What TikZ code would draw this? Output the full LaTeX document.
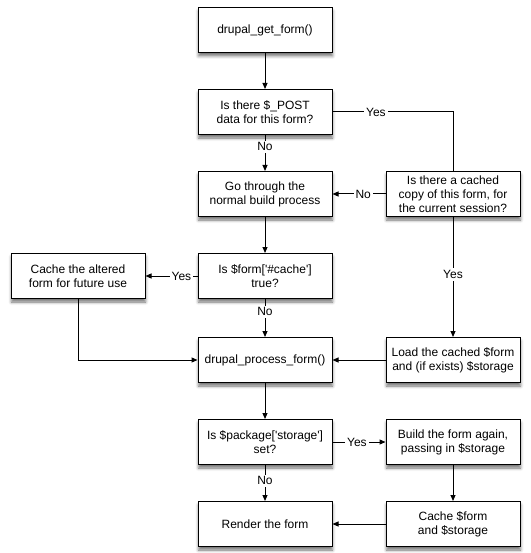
\documentclass[tikz,border=0pt]{standalone}
\usepackage{fontspec}
\setmainfont{Liberation Sans}
\usetikzlibrary{arrows.meta,positioning,shadows.blur}

\begin{document}
\begin{tikzpicture}[
    x=1pt, y=1pt,
    node distance=36pt and 53pt,
    font=\fontsize{12}{14}\selectfont,
    box/.style={rectangle, draw=black, line width=1pt, minimum width=134pt, minimum height=45pt, align=center, fill=white,
        blur shadow={shadow xshift=0.5pt, shadow yshift=-3.5pt, shadow blur radius=3pt, shadow opacity=55}},
    arr/.style={-{Triangle[length=6pt,width=5pt]}, line width=1pt},
    lbl/.style={fill=white, inner sep=2pt}
]
\useasboundingbox (0,0) rectangle (530,-553);

\node[box] (getform) at (265,-30) {drupal\_get\_form()};
\node[box, below=of getform] (postdata) {Is there \$\_POST\\data for this form?};
\node[box, below=of postdata] (build) {Go through the\\normal build process};
\node[box, right=of build] (cached) {Is there a cached\\copy of this form, for\\the current session?};
\node[box, below=of build] (cachetest) {Is \$form[\textquotesingle\#cache\textquotesingle]\\true?};
\node[box, left=52pt of cachetest] (altered) {Cache the altered\\form for future use};
\node[box, below=38pt of cachetest] (process) {drupal\_process\_form()};
\node[box, right=of process] (load) {Load the cached \$form\\and (if exists) \$storage};
\node[box, below=of process] (storage) {Is \$package[\textquotesingle storage\textquotesingle]\\set?};
\node[box, right=of storage] (rebuild) {Build the form again,\\passing in \$storage};
\node[box, below=of storage] (render) {Render the form};
\node[box, right=of render] (cachesave) {Cache \$form\\and \$storage};

\draw[arr] (getform) -- (postdata);
\draw[arr] (postdata) -- node[lbl, pos=0.33] {No} (build);
\draw[line width=1pt] (postdata) -| node[lbl, pos=0.18] {Yes} (cached);
\draw[arr] (cached) -- node[lbl, pos=0.42] {No} (build);
\draw[arr] (cached) -- node[lbl, pos=0.48] {Yes} (load);
\draw[arr] (build) -- (cachetest);
\draw[arr] (cachetest) -- node[lbl, pos=0.31] {Yes} (altered);
\draw[arr] (cachetest) -- node[lbl, pos=0.34] {No} (process);
\draw[arr] (altered) |- (process);
\draw[arr] (load) -- (process);
\draw[arr] (process) -- (storage);
\draw[arr] (storage) -- node[lbl, pos=0.46] {Yes} (rebuild);
\draw[arr] (storage) -- node[lbl, pos=0.44] {No} (render);
\draw[arr] (rebuild) -- (cachesave);
\draw[arr] (cachesave) -- (render);
\end{tikzpicture}
\end{document}
